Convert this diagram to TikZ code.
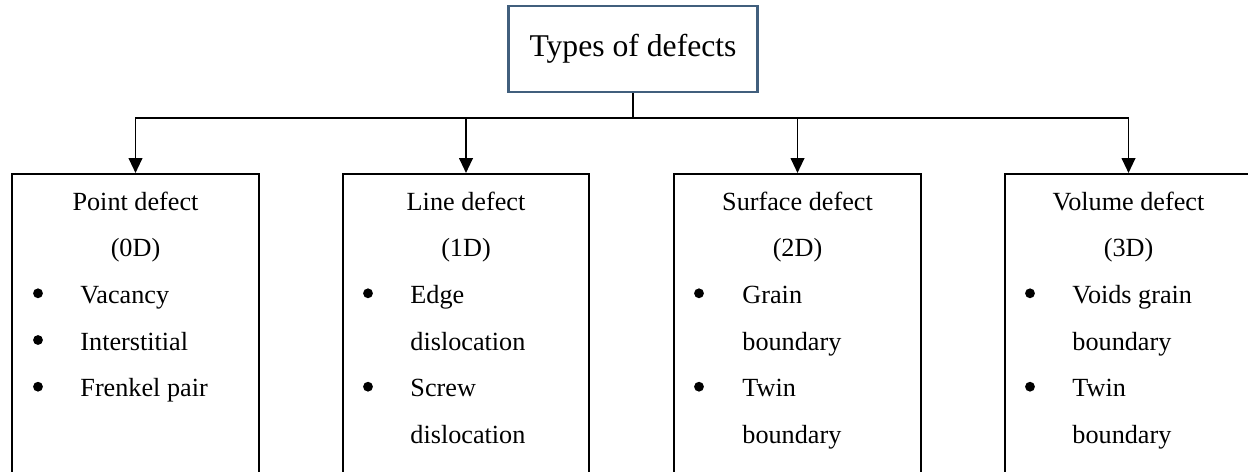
\documentclass[tikz,border=0pt]{standalone}
\usepackage{fontspec}
\setmainfont{Liberation Serif}
\usetikzlibrary{arrows.meta}
\definecolor{titleblue}{RGB}{65,95,125}

\begin{document}
\begin{tikzpicture}[x=0.458pt, y=-0.458pt, font=\fontsize{12pt}{14.4pt}\selectfont,
		defectbox/.style={draw, line width=0.9pt, minimum width=113.1pt, minimum height=145pt, anchor=north, inner sep=0pt},
		head/.style={anchor=base, inner sep=0pt},
		bul/.style={circle, fill, inner sep=0pt, minimum size=4.5pt},
		item/.style={anchor=base west, inner sep=0pt},
		link/.style={line width=0.9pt, -{Triangle[length=6.8pt, width=6.2pt]}}]
		\clip (0,0) rectangle (1248,471);

		\node[draw=titleblue, line width=1.3pt, minimum width=114pt, minimum height=39.4pt, font=\fontsize{14.5pt}{17pt}\selectfont] (types) at (633,49) {Types of defects};
		\coordinate (bus) at (types.south |- 0,118);

		\node[defectbox] (point) at (135.5,173) {};
		\node[defectbox] (line) at (466,173) {};
		\node[defectbox] (surface) at (797.5,173) {};
		\node[defectbox] (volume) at (1128.5,173) {};

		\draw[line width=0.9pt] (types.south) -- (bus);
		\draw[link] (bus) -| (point.north);
		\draw[link] (bus) -| (line.north);
		\draw[link] (bus) -| (surface.north);
		\draw[link] (bus) -| (volume.north);

		% point defect
		\node[head] (pointname) at (135.5,210) {Point defect};
		\node[head] (pointdim) at (135.5,256.7) {(0D)};
		\node[bul] (pointbulleta) at (38,293.3) {};
		\node[item] (vacancy) at (80,303.3) {Vacancy};
		\node[bul] (pointbulletb) at (38,340) {};
		\node[item] (interstitial) at (80,350) {Interstitial};
		\node[bul] (pointbulletc) at (38,386.7) {};
		\node[item] (frenkel) at (80,396.7) {Frenkel pair};

		% line defect
		\node[head] (linename) at (466,210) {Line defect};
		\node[head] (linedim) at (466,256.7) {(1D)};
		\node[bul] (linebulleta) at (368,293.3) {};
		\node[item] (edge) at (410,303.3) {Edge};
		\node[item] (edgeb) at (410,350) {dislocation};
		\node[bul] (linebulletb) at (368,386.7) {};
		\node[item] (screw) at (410,396.7) {Screw};
		\node[item] (screwb) at (410,443.3) {dislocation};

		% surface defect
		\node[head] (surfacename) at (797.5,210) {Surface defect};
		\node[head] (surfacedim) at (797.5,256.7) {(2D)};
		\node[bul] (surfacebulleta) at (699,293.3) {};
		\node[item] (grain) at (742,303.3) {Grain};
		\node[item] (grainb) at (742,350) {boundary};
		\node[bul] (surfacebulletb) at (699,386.7) {};
		\node[item] (twin) at (742,396.7) {Twin};
		\node[item] (twinb) at (742,443.3) {boundary};

		% volume defect
		\node[head] (volumename) at (1128.5,210) {Volume defect};
		\node[head] (volumedim) at (1128.5,256.7) {(3D)};
		\node[bul] (volumebulleta) at (1030,293.3) {};
		\node[item] (voids) at (1072,303.3) {Voids grain};
		\node[item] (voidsb) at (1072,350) {boundary};
		\node[bul] (volumebulletb) at (1030,386.7) {};
		\node[item] (vtwin) at (1072,396.7) {Twin};
		\node[item] (vtwinb) at (1072,443.3) {boundary};
	\end{tikzpicture}
\end{document}
